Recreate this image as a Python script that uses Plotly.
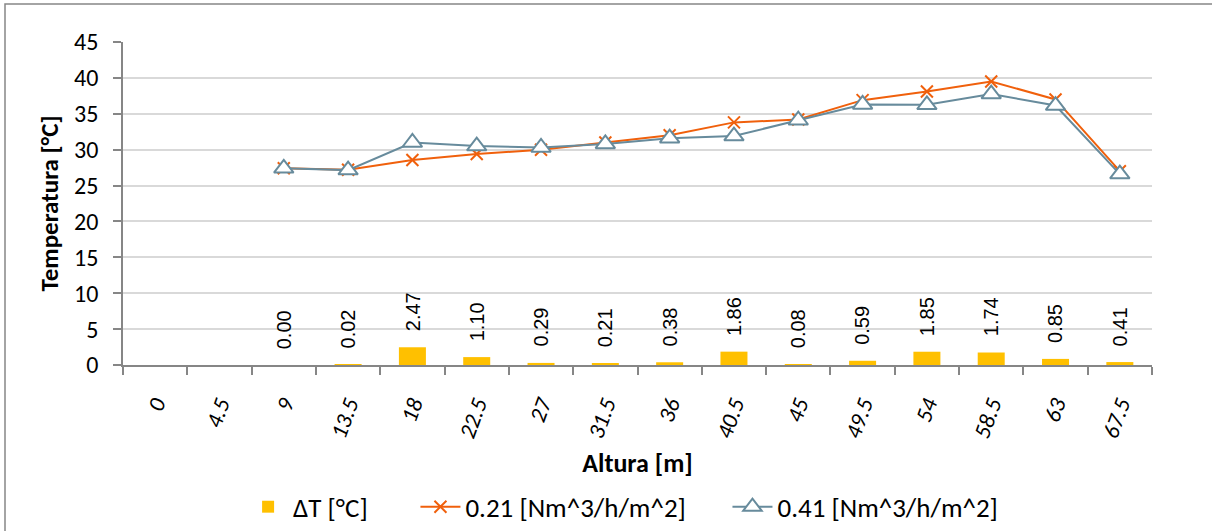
import plotly.graph_objects as go

categories = ["0", "4.5", "9", "13.5", "18", "22.5", "27", "31.5", "36", "40.5",
              "45", "49.5", "54", "58.5", "63", "67.5"]
delta_t = [None, None, 0.00, 0.02, 2.47, 1.10, 0.29, 0.21, 0.38, 1.86,
           0.08, 0.59, 1.85, 1.74, 0.85, 0.41]
temp_021 = [None, None, 27.4, 27.2, 28.55, 29.4, 30.0, 31.0, 32.0, 33.8,
            34.2, 36.9, 38.1, 39.5, 37.0, 27.0]
temp_041 = [None, None, 27.4, 27.15, 31.0, 30.5, 30.3, 30.8, 31.6, 31.9,
            34.1, 36.3, 36.25, 37.75, 36.15, 26.6]
series_names = ["ΔT [°C]", "0.21 [Nm^3/h/m^2]", "0.41 [Nm^3/h/m^2]"]

CAL = "Carlito, Calibri, Lato, sans-serif"
ORANGE = "#F0600C"
BLUEGRAY = "#678B9C"
GOLD = "#FFC000"
AXIS = "#868686"
GRID = "#D9D9D9"
NB = "\u00a0"

fig = go.Figure()
fig.add_trace(go.Bar(
    x=categories, y=delta_t, name=series_names[0] + NB * 7,
    marker=dict(color=GOLD, line=dict(width=0)), width=0.42,
))
fig.add_trace(go.Scatter(
    x=categories, y=temp_021, name=series_names[1] + NB * 6, mode="lines+markers",
    line=dict(color=ORANGE, width=2),
    marker=dict(symbol="x-thin", size=12, line=dict(color=ORANGE, width=2)),
))
fig.add_trace(go.Scatter(
    x=categories, y=temp_041, name=series_names[2], mode="lines+markers",
    line=dict(color=BLUEGRAY, width=2),
    marker=dict(symbol="triangle-up", size=17, color="white",
                line=dict(color=BLUEGRAY, width=2)),
))

for i, v in enumerate(delta_t):
    if v is None:
        continue
    fig.add_annotation(
        x=i, y=v, xref="x", yref="y", text=f"{v:.2f}", textangle=-90,
        showarrow=False, yanchor="bottom", xanchor="center", yshift=14,
        font=dict(family="Liberation Sans, Arial, sans-serif", size=20, color="black"),
    )

# outer chart border
fig.add_shape(type="rect", xref="paper", yref="paper",
              x0=(5 - 123) / 1029, x1=(1240 - 123) / 1029,
              y0=(365 - 560) / 323, y1=(365 - 4) / 323,
              line=dict(color=AXIS, width=1.5), fillcolor="rgba(0,0,0,0)", layer="below")

fig.update_layout(
    template="none",
    width=1212, height=531,
    margin=dict(l=123, r=60, t=42, b=166, autoexpand=False),
    paper_bgcolor="white", plot_bgcolor="white",
    font=dict(family=CAL, size=24, color="black"),
    bargap=0.58,
    showlegend=True,
    hovermode=False,
    legend=dict(orientation="h", x=0.486, xanchor="center", y=-0.44, yanchor="middle",
                font=dict(family=CAL, size=27), traceorder="normal", itemwidth=40,
                bgcolor="rgba(0,0,0,0)"),
    xaxis=dict(
        type="category", tickangle=-70, tickson="boundaries",
        tickmode="linear", dtick=1, automargin=False,
        range=[-0.5, len(categories) - 0.5],
        ticks="outside", ticklen=8, tickcolor=AXIS, tickwidth=1.5,
        showline=True, linecolor=AXIS, linewidth=1.5,
        showgrid=False, zeroline=False,
        tickfont=dict(family=CAL, size=23, style="italic"),
        ticklabelstandoff=15,
        title=dict(text="<b>Altura [m]</b>", font=dict(family=CAL, size=26), standoff=13),
    ),
    yaxis=dict(
        range=[0, 45], dtick=5, tick0=0, automargin=False,
        ticks="outside", ticklen=8, tickcolor=AXIS, tickwidth=1.5,
        showline=True, linecolor=AXIS, linewidth=1.5,
        showgrid=True, gridcolor=GRID, gridwidth=1.5,
        zeroline=False,
        tickfont=dict(family=CAL, size=24),
        ticklabelstandoff=10,
        title=dict(text="<b>Temperatura [°C]</b>", font=dict(family=CAL, size=25), standoff=8),
    ),
)

fig.write_html("out.html", config={"displayModeBar": False},
               post_script="document.body.style.margin='0';")
